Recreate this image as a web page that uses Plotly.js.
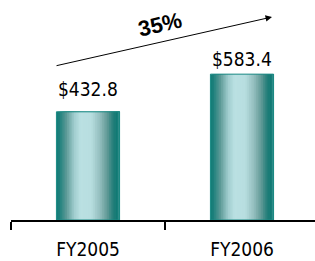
<!DOCTYPE html>
<html>
<head>
<meta charset="utf-8">
<script src="https://cdn.plot.ly/plotly-3.0.1.min.js"></script>
<style>html,body{margin:0;padding:0;background:#fff;}#chart{width:315px;height:261px;}</style>
</head>
<body>
<div id="chart"></div>
<script>
// ---- data ----
const years = ['FY2005', 'FY2006'];
const revenue = [432.8, 583.4];
const valueLabels = revenue.map(v => '$' + v.toFixed(1));
const growthLabel = Math.round((revenue[1] / revenue[0] - 1) * 100) + '%';

// ---- style ----
const NARROW = '"DejaVu Sans Condensed", "Arial Narrow", sans-serif';
const BAR_W = 0.41;
const N = 36;
const labelLift = [10, 2];
// horizontal shading profile of the cylinder-like bars: [position 0..1, [r,g,b]]
const stops = [
  [0.00, [16, 124, 119]],
  [0.05, [30, 128, 124]],
  [0.16, [95, 155, 152]],
  [0.28, [160, 205, 206]],
  [0.38, [186, 224, 226]],
  [0.55, [184, 222, 224]],
  [0.68, [150, 192, 192]],
  [0.80, [100, 155, 152]],
  [0.90, [35, 126, 121]],
  [0.96, [18, 122, 117]],
  [1.00, [60, 150, 146]]
];
function shade(t) {
  for (let i = 0; i < stops.length - 1; i++) {
    const [a, ca] = stops[i], [b, cb] = stops[i + 1];
    if (t >= a && t <= b) {
      const f = (t - a) / (b - a);
      const c = ca.map((v, k) => Math.round(v + (cb[k] - v) * f));
      return 'rgb(' + c.join(',') + ')';
    }
  }
  return 'rgb(' + stops[stops.length - 1][1].join(',') + ')';
}

const traces = [];
for (let i = 0; i < N; i++) {
  const start = i / N;
  traces.push({
    type: 'bar', x: years, y: revenue,
    offset: -BAR_W / 2 + start * BAR_W,
    width: BAR_W * (1 - start),
    marker: { color: shade((i + 0.5) / N), line: { width: 0 } },
    hoverinfo: 'skip', showlegend: false
  });
}
// outline
traces.push({
  type: 'bar', x: years, y: revenue,
  offset: -BAR_W / 2, width: BAR_W,
  marker: { color: 'rgba(0,0,0,0)', line: { color: '#1b8a84', width: 1 } },
  hoverinfo: 'skip', showlegend: false
});

const annotations = years.map((yr, i) => ({
  x: yr, y: revenue[i], xref: 'x', yref: 'y',
  text: valueLabels[i], showarrow: false,
  yanchor: 'bottom', yshift: labelLift[i],
  font: { family: NARROW, size: 19, color: '#000' }
}));
annotations.push({
  x: 1.195, y: 812, xref: 'x', yref: 'y',
  ax: -0.214, ay: 616, axref: 'x', ayref: 'y',
  showarrow: true, arrowhead: 2, arrowsize: 1.3, arrowwidth: 1, arrowcolor: '#000', text: ''
});
annotations.push({
  x: 0.468, y: 782, xref: 'x', yref: 'y', showarrow: false,
  text: '<b>' + growthLabel + '</b>', textangle: -13,
  font: { family: 'Liberation Sans, Arial, sans-serif', size: 22, color: '#000' }
});

const layout = {
  width: 315, height: 261,
  margin: { l: 11, r: 0, t: 20, b: 41, pad: 0 },
  paper_bgcolor: '#fff', plot_bgcolor: '#fff',
  barmode: 'overlay',
  showlegend: false,
  xaxis: {
    type: 'category', categoryorder: 'array', categoryarray: years,
    range: [-0.5, 1.474],
    tickson: 'boundaries', ticks: 'outside', ticklen: 8, tickwidth: 2, tickcolor: '#000',
    showline: true, linecolor: '#000', linewidth: 2,
    showgrid: false, zeroline: false,
    tickfont: { family: NARROW, size: 19, color: '#000' },
    ticklabelstandoff: 11
  },
  yaxis: { range: [0, 800], visible: false, showgrid: false, zeroline: false, fixedrange: true },
  annotations: annotations
};

Plotly.newPlot('chart', traces, layout, { staticPlot: true, displayModeBar: false });
</script>
</body>
</html>
